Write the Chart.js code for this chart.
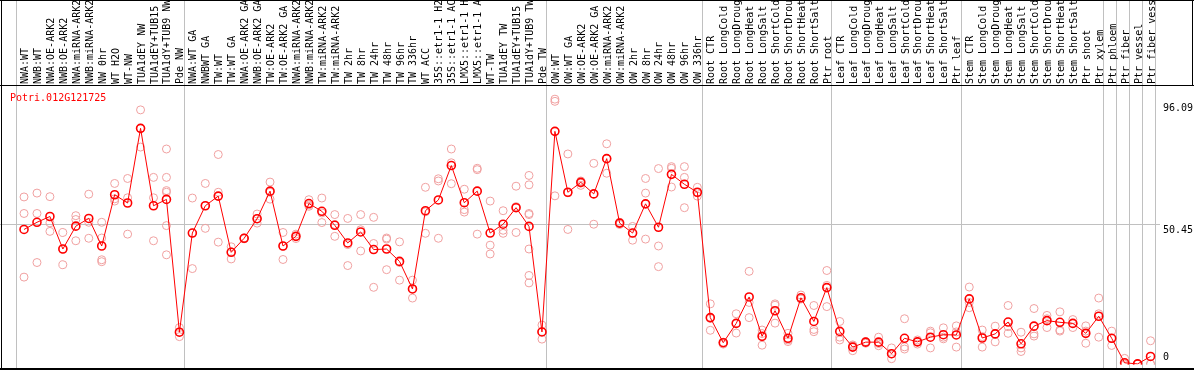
<!DOCTYPE html>
<html>
<head>
<meta charset="utf-8">
<script src="https://cdn.jsdelivr.net/npm/chart.js@4/dist/chart.umd.min.js"></script>
<style>
html,body{margin:0;padding:0;background:#fff;}
canvas{display:block;}
</style>
</head>
<body>
<canvas id="c" width="1194" height="370"></canvas>
<script>
const geneId = "Potri.012G121725";

const categories = [
  "NWA:WT","NWB:WT","NWA:OE-ARK2","NWB:OE-ARK2","NWA:miRNA-ARK2","NWB:miRNA-ARK2","NW 0hr","WT H2O","WT-NW","TUA1dEY NW","TUA1dEY+TUB15 NW","TUA1dY+TUB9 NW","Pde NW",
  "NWA:WT GA","NWBWT GA","TW:WT","TW:WT GA","NWA:OE-ARK2 GA","NWB:OE-ARK2 GA","TW:OE-ARK2","TW:OE-ARK2 GA","NWA:miRNA-ARK2 GA","NWB:miRNA-ARK2 GA","TW:miRNA-ARK2","TW:miRNA-ARK2 GA","TW 2hr","TW 8hr","TW 24hr","TW 48hr","TW 96hr","TW 336hr","WT ACC","35S::etr1-1 H2O","35S::etr1-1 ACC","LMX5::etr1-1 H2O","LMX5::etr1-1 ACC","WT-TW","TUA1dEY TW","TUA1dEY+TUB15 TW","TUA1dY+TUB9 TW","Pde TW",
  "OW:WT","OW:WT GA","OW:OE-ARK2","OW:OE-ARK2 GA","OW:miRNA-ARK2","OW:miRNA-ARK2 GA","OW 2hr","OW 8hr","OW 24hr","OW 48hr","OW 96hr","OW 336hr",
  "Root CTR","Root LongCold","Root LongDrought","Root LongHeat","Root LongSalt","Root ShortCold","Root ShortDrought","Root ShortHeat","Root ShortSalt","Ptr root",
  "Leaf CTR","Leaf LongCold","Leaf LongDrought","Leaf LongHeat","Leaf LongSalt","Leaf ShortCold","Leaf ShortDrought","Leaf ShortHeat","Leaf ShortSalt","Ptr leaf",
  "Stem CTR","Stem LongCold","Stem LongDrought","Stem LongHeat","Stem LongSalt","Stem ShortCold","Stem ShortDrought","Stem ShortHeat","Stem ShortSalt","Ptr shoot","Ptr xylem",
  "Ptr phloem","Ptr fiber","Ptr vessel","Ptr fiber vessel"
];

// index of the first category of each group (vertical separators)
const groupStarts = [0, 13, 41, 53, 63, 73, 84, 85, 86, 87, 88];

const means = [
  48.8, 51.4, 53.5, 41.7, 50.0, 52.8, 42.8, 61.4, 58.4, 85.5, 57.4, 59.7, 11.5,
  47.5, 57.4, 60.9, 40.5, 45.6, 52.7, 62.7, 42.8, 46.3, 58.2, 55.4, 50.3, 43.9, 47.9, 41.5, 41.7, 37.2, 27.2, 55.6, 59.5, 72.0, 58.5, 62.7, 47.5, 50.7, 56.7, 49.9, 11.6,
  84.4, 62.3, 65.9, 61.7, 74.5, 51.1, 47.5, 58.1, 49.6, 68.8, 65.2, 62.3,
  16.8, 7.7, 14.7, 24.3, 10.0, 19.3, 9.3, 24.0, 15.4, 27.7,
  11.8, 6.1, 7.9, 7.9, 3.7, 9.3, 8.0, 9.7, 10.6, 10.5,
  23.6, 9.4, 10.9, 15.2, 7.3, 13.7, 15.7, 15.1, 14.7, 11.1, 17.3,
  9.3, 0.4, 0.0, 2.7
];

const replicates = [
  [60.6, 54.6, 31.5], [62.0, 54.6, 36.8], [60.7, 51.2, 48.1], [47.7, 36.0, 41.7], [53.8, 52.4, 44.7],
  [61.6, 51.4, 45.6], [51.4, 45.7, 37.8, 37.1], [65.5, 59.1, 59.9], [67.3, 60.3, 47.1], [92.2, 78.7, 85.5],
  [67.7, 60.3, 44.7], [78.0, 67.7, 62.9, 62.3, 50.2, 39.6], [13.2, 9.9, 11.6],
  [60.2, 34.6, 47.5], [65.5, 49.2, 57.4], [76.0, 62.3, 44.2], [42.5, 38.1, 40.7], [45.7, 45.4, 45.7],
  [54.4, 51.1, 52.7], [66.0, 59.8, 62.3], [47.7, 37.9, 42.7], [45.5, 47.1, 46.3], [59.6, 57.2, 57.7],
  [60.2, 51.3, 54.8], [54.2, 46.3, 50.6], [52.8, 35.7, 43.3], [54.2, 48.7, 41.0], [53.2, 43.7, 27.8],
  [45.7, 45.3, 34.2], [44.3, 30.4, 36.8], [30.4, 23.9, 27.3], [64.1, 47.4, 55.2], [67.2, 66.4, 45.6],
  [78.0, 73.0, 65.4], [63.4, 56.0, 55.1], [71.0, 70.5, 47.1], [59.1, 43.1, 39.9], [55.6, 48.5, 47.4],
  [64.5, 57.1, 47.7], [68.4, 65.0, 54.6, 54.2, 41.7, 32.1, 29.4], [14.1, 9.0, 11.7],
  [96.09, 95.3, 61.0], [76.2, 48.8, 62.1], [66.4, 64.8, 65.6], [72.8, 50.7, 61.7], [79.9, 69.2, 74.5],
  [51.4, 50.6, 51.1], [49.9, 44.9, 47.5], [67.3, 62.0, 45.3], [70.9, 42.8, 35.3], [71.6, 71.0, 64.2],
  [71.6, 67.7, 56.7], [64.1, 60.9, 62.1],
  [21.8, 12.2, 16.5], [7.9, 7.2, 7.7], [18.2, 11.2, 14.8], [33.6, 16.8, 22.3], [12.3, 6.8, 11.0],
  [21.8, 14.8, 21.3], [11.1, 8.1, 8.7], [25.0, 23.6, 23.6], [21.2, 12.5, 11.7], [33.9, 28.5, 20.8],
  [15.4, 9.7, 8.7], [6.9, 4.8, 6.6], [8.1, 7.5, 8.0], [9.7, 6.6, 7.4], [5.8, 1.9, 3.6],
  [16.4, 5.4, 6.2], [8.7, 7.2, 8.0], [11.9, 5.8, 11.3], [13.1, 9.1, 9.7], [13.8, 6.1, 11.6],
  [27.9, 20.4, 22.3], [12.3, 6.1, 9.9], [13.7, 8.0, 10.9], [21.2, 11.1, 13.5], [11.5, 5.8, 4.5],
  [20.1, 10.9, 10.1], [17.6, 13.2, 16.4], [18.9, 12.3, 11.9], [16.1, 13.2, 14.7], [13.8, 7.5, 11.9],
  [23.9, 9.7, 18.2],
  [11.9, 6.7, 9.3], [2.0, 0.0, 0.0], [0.0, 0.0, 0.0], [8.4, 0.0, 0.0]
];

const yTickLabels = [0, 50.45, 96.09];

const meanPoints = means.map((v, i) => ({x: i, y: v}));
const repPoints = [];
replicates.forEach((arr, i) => arr.forEach(v => repPoints.push({x: i, y: v})));

const FONT = '10px "DejaVu Sans Mono", "Liberation Mono", monospace';

const decor = {
  id: 'decor',
  beforeDatasetsDraw(chart) {
    const ctx = chart.ctx;
    const xs = chart.scales.x, ys = chart.scales.y;
    const W = chart.width, H = chart.height;
    const area = chart.chartArea;
    ctx.save();
    // horizontal mid grid line
    ctx.fillStyle = '#c0c0c0';
    const gy = Math.floor(ys.getPixelForValue(yTickLabels[1]));
    ctx.fillRect(0, gy, area.right, 1);
    // group separators
    groupStarts.forEach(b => {
      const px = Math.floor(xs.getPixelForValue(b) - 8);
      ctx.fillRect(px, 0, 1, 368);
    });
    // borders
    ctx.fillStyle = '#000';
    ctx.fillRect(0, 0, W, 1);
    ctx.fillRect(1, 0, 1, H);
    ctx.fillRect(W - 2, 0, 1, 86);
    ctx.fillRect(0, 85, W, 1);
    ctx.fillRect(0, 368, W, 2);
    // rotated category labels
    ctx.font = FONT;
    ctx.fillStyle = '#000';
    ctx.textAlign = 'left';
    ctx.textBaseline = 'alphabetic';
    categories.forEach((lab, i) => {
      const px = xs.getPixelForValue(i);
      ctx.save();
      ctx.translate(Math.round(px) + 4, 84);
      ctx.rotate(-Math.PI / 2);
      ctx.fillText(lab, 0, 0);
      ctx.restore();
    });
    // title
    ctx.fillStyle = '#ff0000';
    ctx.fillText(geneId, 10, 101);
    // y value labels
    ctx.fillStyle = '#000';
    const lx = area.right + 3;
    yTickLabels.forEach((v, k) => {
      const py = ys.getPixelForValue(v);
      if (k === 0) {
        ctx.textBaseline = 'alphabetic';
        ctx.fillText(String(v), lx, Math.min(py, area.bottom) - 4);
      } else {
        ctx.textBaseline = 'top';
        ctx.fillText(String(v), lx, Math.max(py + 0.5, area.top + 15));
      }
    });
    ctx.restore();
  }
};

new Chart(document.getElementById('c'), {
  data: {
    datasets: [
      {
        type: 'line',
        data: meanPoints,
        borderColor: '#ff0000',
        borderWidth: 1,
        pointRadius: 4,
        pointBorderWidth: 1.6,
        pointBorderColor: '#ff0000',
        pointBackgroundColor: 'rgba(0,0,0,0)',
        tension: 0,
        order: 0
      },
      {
        type: 'scatter',
        data: repPoints,
        pointRadius: 4,
        borderWidth: 1,
        borderColor: '#f0a0a0',
        backgroundColor: 'rgba(0,0,0,0)',
        order: 1
      }
    ]
  },
  options: {
    responsive: false,
    animation: false,
    devicePixelRatio: 1,
    layout: {padding: {left: 1, right: 34, top: 88, bottom: 0}},
    scales: {
      x: {type: 'linear', min: -1.4231, max: 87.7308, display: false},
      y: {type: 'linear', min: -0.178, max: 100.14, display: false}
    },
    plugins: {legend: {display: false}, tooltip: {enabled: false}}
  },
  plugins: [decor]
});
</script>
</body>
</html>
